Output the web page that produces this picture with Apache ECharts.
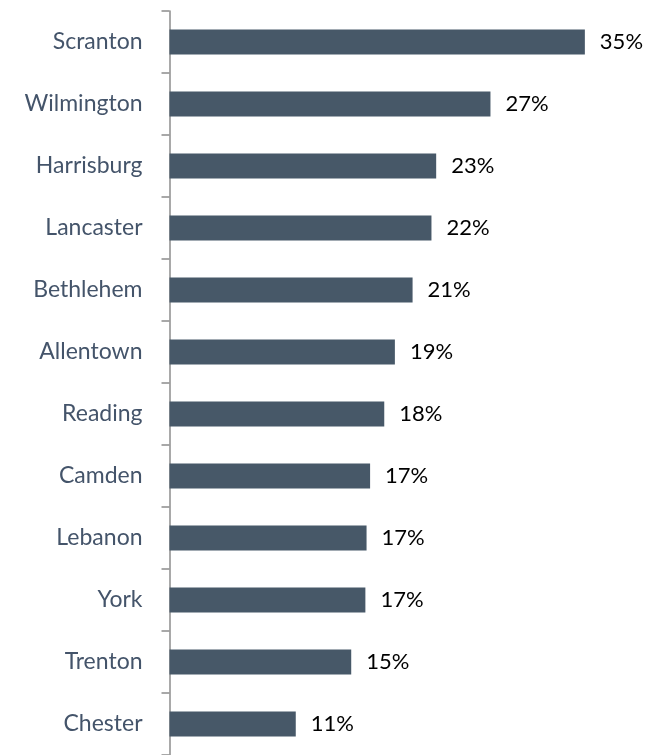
<!DOCTYPE html>
<html>
<head>
<meta charset="utf-8">
<script src="https://cdn.jsdelivr.net/npm/echarts@6/dist/echarts.min.js"></script>
<style>
html,body{margin:0;padding:0;background:#fff;}
#chart{width:660px;height:755px;}
</style>
</head>
<body>
<div id="chart"></div>
<script>
const categories = ["Scranton","Wilmington","Harrisburg","Lancaster","Bethlehem","Allentown","Reading","Camden","Lebanon","York","Trenton","Chester"];
const values = [35.2, 27.2, 22.6, 22.2, 20.6, 19.1, 18.2, 17.0, 16.7, 16.6, 15.4, 10.7];

const chart = echarts.init(document.getElementById('chart'), null, {renderer:'canvas'});
chart.setOption({
  animation: false,
  backgroundColor: '#ffffff',
  grid: {left: 169.5, top: 11, width: 472, height: 748, containLabel: false},
  xAxis: {
    type: 'value', min: 0, max: 40, show: false
  },
  yAxis: {
    type: 'category', data: categories, inverse: true,
    axisLine: {show: true, lineStyle: {color: '#8c8c8c', width: 1.5}},
    axisTick: {show: true, length: 8, lineStyle: {color: '#8c8c8c', width: 1.5}},
    axisLabel: {color: '#44546a', fontSize: 23, fontFamily: 'Lato, "Open Sans", sans-serif', margin: 27},
    splitLine: {show: false}
  },
  series: [{
    type: 'bar',
    data: values,
    barWidth: 25,
    itemStyle: {color: '#475868'},
    label: {
      show: true, position: 'right', distance: 15,
      color: '#000000', fontSize: 22, fontFamily: 'Lato, "Open Sans", sans-serif',
      formatter: p => Math.round(p.value) + '%'
    }
  }]
});
</script>
</body>
</html>
